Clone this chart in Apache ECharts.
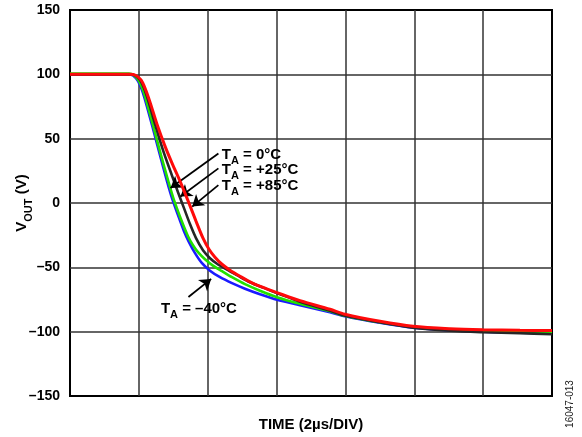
<!DOCTYPE html>
<html>
<head>
<meta charset="utf-8">
<script src="https://cdn.jsdelivr.net/npm/echarts@6/dist/echarts.min.js"></script>
<style>
  html, body { margin: 0; padding: 0; background: #fff; }
  #chart { width: 582px; height: 437px; }
</style>
</head>
<body>
<div id="chart"></div>
<script>
// Output voltage falling edge, time in µs (2 µs per division), VOUT in volts
const yTicks = [-150, -100, -50, 0, 50, 100, 150];
const xDivs = [0, 2, 4, 6, 8, 10, 12, 14];

const taMinus40 = [
  [0, 100], [1.714, 100], [1.830, 99.1], [1.975, 94.8], [2.091, 87.8], [2.207, 77.7],
  [2.382, 60.6], [2.614, 37.2], [2.817, 17.0], [2.963, 3.8], [3.137, -9.4], [3.311, -21.9],
  [3.456, -30.4], [3.631, -39.0], [3.834, -46.8], [4.066, -52.6], [4.357, -57.7], [4.705, -62.3],
  [5.083, -66.6], [5.518, -70.9], [6.012, -75.2], [6.680, -79.4], [7.552, -84.9], [7.987, -88.0],
  [9.004, -93.1], [9.962, -96.9], [11.037, -98.9], [11.995, -100.1], [13.070, -100.8], [14.0, -101.2]
];
const ta0 = [
  [0, 100.6], [1.714, 100.6], [1.859, 99.1], [2.004, 94.8], [2.120, 87.8], [2.236, 77.7],
  [2.411, 60.6], [2.643, 37.2], [2.846, 17.8], [3.021, 2.2], [3.224, -12.6], [3.427, -25.8],
  [3.572, -32.8], [3.718, -38.2], [3.921, -43.7], [4.153, -48.7], [4.415, -53.0], [4.705, -57.7],
  [5.083, -63.1], [5.518, -68.2], [6.012, -73.2], [6.680, -78.3], [7.552, -84.1], [7.987, -87.6],
  [9.004, -92.7], [9.962, -96.2], [11.037, -98.1], [11.995, -99.3], [13.070, -100.1], [14.0, -100.4]
];
const ta25 = [
  [0, 100], [1.772, 100], [1.888, 99.1], [2.033, 95.6], [2.149, 89.3], [2.294, 77.7],
  [2.469, 61.3], [2.701, 41.1], [2.904, 25.6], [3.137, 8.4], [3.311, -4.0], [3.485, -16.4],
  [3.660, -27.3], [3.863, -36.7], [4.066, -42.9], [4.270, -47.2], [4.560, -51.8], [4.850, -56.1],
  [5.228, -61.6], [5.606, -65.8], [6.099, -70.9], [6.680, -76.7], [7.552, -83.7], [7.987, -87.6],
  [9.004, -92.7], [9.962, -96.9], [11.037, -99.3], [11.995, -100.4], [13.070, -101.2], [14.0, -102.0]
];
const ta85 = [
  [0, 100], [1.743, 100], [1.917, 99.1], [2.062, 95.6], [2.178, 89.3], [2.324, 78.4],
  [2.527, 61.3], [2.759, 44.2], [2.963, 31.0], [3.195, 17.0], [3.456, -0.1], [3.660, -14.1],
  [3.863, -27.3], [4.037, -35.9], [4.211, -42.1], [4.415, -47.6], [4.647, -52.2], [4.938, -56.9],
  [5.286, -62.0], [5.664, -66.2], [6.099, -70.5], [6.680, -75.9], [7.552, -82.6], [7.987, -86.4],
  [9.004, -91.9], [9.962, -95.8], [11.037, -97.7], [11.995, -98.5], [13.070, -98.9], [14.0, -99.1]
];

// Callout labels: text, anchor (data coords, left edge / vertical centre)
const callouts = [
  { temp: ' = 0°C',   at: [4.41, 37.5] },
  { temp: ' = +25°C', at: [4.41, 25.8] },
  { temp: ' = +85°C', at: [4.41, 13.5] },
  { temp: ' = –40°C', at: [2.64, -82.0] }
];
// Arrow segments: tail -> head, in data coords
const arrows = [
  [[4.31, 38.5], [2.92, 11.6]],
  [[4.31, 26.9], [3.21, 5.0]],
  [[4.31, 13.9], [3.55, -2.8]],
  [[3.44, -73.0], [4.10, -59.0]]
];

const chart = echarts.init(document.getElementById('chart'), null, { renderer: 'canvas' });
const FONT = 'Liberation Sans, Arial, sans-serif';
const gridLine = { color: '#333', width: 1.5 };

function curve(name, data, color, width, z) {
  return {
    name, type: 'line', data, z,
    showSymbol: false, smooth: 0.3,
    lineStyle: { color, width },
    animation: false
  };
}

const series = [
  curve('TA = -40°C', taMinus40, '#1a1aff', 2.6, 2),
  curve('TA = 0°C', ta0, '#22e000', 2.6, 3),
  curve('TA = +25°C', ta25, '#262626', 2.6, 4),
  curve('TA = +85°C', ta85, '#ff0a0a', 3, 5)
];
series.push({
  type: 'line', data: [], z: 6,
  markLine: {
    silent: true, animation: false,
    symbol: ['none', 'arrow'], symbolSize: 11,
    label: { show: false },
    lineStyle: { color: '#000', width: 1.8, type: 'solid' },
    data: arrows.map(a => [{ coord: a[0] }, { coord: a[1] }])
  }
});

chart.setOption({
  backgroundColor: '#fff',
  animation: false,
  grid: {
    left: 70, right: 30, top: 10, bottom: 41,
    outerBoundsMode: 'none', containLabel: false,
    show: true, borderColor: '#000', borderWidth: 2, backgroundColor: 'transparent'
  },
  xAxis: {
    type: 'value', min: xDivs[0], max: xDivs[xDivs.length - 1], interval: 2,
    axisLabel: { show: false }, axisTick: { show: false }, axisLine: { show: false },
    splitLine: { show: true, showMinLine: false, showMaxLine: false, lineStyle: gridLine },
    name: 'TIME (2µs/DIV)', nameLocation: 'middle', nameGap: 21, nameMoveOverlap: false,
    nameTextStyle: { fontFamily: FONT, fontWeight: 'bold', fontSize: 15, color: '#000' }
  },
  yAxis: {
    type: 'value', min: yTicks[0], max: yTicks[yTicks.length - 1], interval: 50,
    axisTick: { show: false }, axisLine: { show: false },
    splitLine: { show: true, showMinLine: false, showMaxLine: false, lineStyle: gridLine },
    axisLabel: {
      margin: 10, fontFamily: FONT, fontWeight: 'bold', fontSize: 14, color: '#000',
      formatter: v => (v < 0 ? '\u2013' + Math.abs(v) : String(v))
    },
    name: '{v|V}{s|OUT}{v| (V)}', nameLocation: 'middle', nameGap: 36, nameRotate: 90,
    nameMoveOverlap: false,
    nameTextStyle: {
      rich: {
        v: { fontFamily: FONT, fontWeight: 'bold', fontSize: 15, color: '#000', lineHeight: 24 },
        s: { fontFamily: FONT, fontWeight: 'bold', fontSize: 11, color: '#000', lineHeight: 12, verticalAlign: 'bottom' }
      }
    }
  },
  series
});

const rich = {
  t: { fontFamily: FONT, fontWeight: 'bold', fontSize: 15, fill: '#000', lineHeight: 24 },
  s: { fontFamily: FONT, fontWeight: 'bold', fontSize: 11, fill: '#000', lineHeight: 12, verticalAlign: 'bottom' }
};
const graphics = callouts.map(c => {
  const p = chart.convertToPixel({ gridIndex: 0 }, c.at);
  return {
    type: 'text', x: p[0], y: p[1], z: 10,
    style: { text: '{t|T}{s|A}{t|' + c.temp + '}', rich, align: 'left', verticalAlign: 'middle' }
  };
});
graphics.push({
  type: 'text', x: 570, y: 404, rotation: Math.PI / 2, z: 10,
  style: { text: '16047-013', fontFamily: FONT, fontSize: 10, fill: '#222', align: 'center', verticalAlign: 'middle' }
});
chart.setOption({ graphic: graphics });
</script>
</body>
</html>
